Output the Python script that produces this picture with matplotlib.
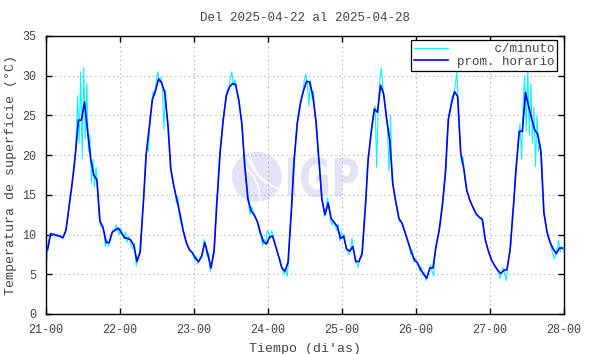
import numpy as np
import matplotlib
matplotlib.use("Agg")
import matplotlib.pyplot as plt
from matplotlib.patches import Ellipse, Arc, PathPatch
from matplotlib.textpath import TextPath
from matplotlib.font_manager import FontProperties
from matplotlib.transforms import Affine2D

# promedio horario (una lista por dia, 24 valores)
prom_21 = [8.1, 10.1, 10.0, 9.9, 9.8, 9.6, 10.6, 13.5, 16.5, 20.0, 24.4, 24.4,
           26.7, 23.0, 19.5, 17.5, 16.9, 11.7, 10.9, 9.0, 9.0, 10.3, 10.6, 10.8]
prom_22 = [10.2, 9.6, 9.5, 9.3, 8.6, 6.6, 7.75, 13.6, 20.1, 23.6, 27.0, 28.1,
           29.6, 29.1, 27.9, 24.0, 18.2, 16.0, 14.3, 12.5, 10.5, 9.0, 8.1, 7.7]
prom_23 = [7.0, 6.6, 7.3, 9.0, 7.5, 5.8, 7.9, 14.5, 20.5, 24.5, 27.5, 28.6,
           29.0, 28.9, 27.0, 24.0, 18.5, 14.5, 13.0, 12.5, 11.7, 10.3, 9.1, 8.8]
prom_24 = [9.7, 9.8, 8.5, 7.2, 5.8, 5.4, 6.5, 12.5, 19.5, 24.0, 26.5, 28.1,
           29.3, 29.2, 27.6, 24.5, 19.5, 14.4, 12.5, 14.0, 12.0, 11.5, 11.0, 9.5]
prom_25 = [9.8, 8.2, 7.9, 8.5, 6.6, 6.6, 7.6, 13.0, 19.5, 23.0, 25.8, 25.4,
           28.8, 27.7, 24.5, 21.8, 16.3, 14.0, 12.0, 11.4, 10.2, 9.0, 7.8, 6.8]
prom_26 = [6.4, 5.6, 5.0, 4.5, 5.8, 5.8, 8.5, 10.5, 13.5, 17.5, 24.5, 26.5,
           28.0, 27.4, 20.3, 18.3, 15.5, 14.3, 13.4, 12.6, 12.2, 11.9, 9.3, 7.9]
prom_27 = [6.8, 6.1, 5.5, 5.1, 5.5, 5.6, 8.0, 13.0, 18.5, 23.0, 23.0, 27.9,
           26.2, 24.6, 23.2, 22.6, 20.5, 12.7, 10.3, 9.0, 8.2, 7.6, 8.3, 8.3]

# datos por minuto (muestreados: dos valores por hora)
min_21 = [6.6, 9.0, 10.1, 10.0, 9.9, 10.1, 9.8, 10.0, 9.7, 9.9, 9.5, 9.8,
          10.2, 11.5, 13.0, 14.5, 15.8, 17.5, 18.5, 22.0, 27.5, 21.5, 30.5, 19.5,
          31.0, 22.0, 29.0, 20.5, 22.5, 16.5, 19.5, 16.0, 18.5, 15.5, 12.0, 11.0,
          11.0, 10.5, 8.5, 9.4, 8.5, 9.5, 10.0, 10.6, 10.4, 11.2, 10.5, 10.0]
min_22 = [10.8, 10.2, 9.5, 10.3, 9.0, 9.8, 9.5, 8.5, 8.2, 8.9, 6.0, 7.2,
          7.5, 8.0, 12.5, 14.5, 19.5, 21.0, 20.5, 24.5, 26.5, 28.0, 27.5, 29.5,
          30.5, 29.2, 29.8, 28.6, 23.3, 28.2, 24.5, 23.5, 18.5, 17.5, 16.5, 15.8,
          14.0, 14.8, 12.3, 11.5, 10.8, 10.0, 9.3, 8.7, 8.3, 7.9, 7.8, 7.4]
min_23 = [6.8, 7.3, 6.3, 6.9, 7.0, 7.7, 9.4, 8.7, 7.2, 7.7, 5.4, 6.2,
          7.5, 9.0, 14.0, 15.5, 20.0, 21.5, 24.0, 25.5, 27.2, 28.3, 28.2, 29.6,
          30.5, 28.8, 29.5, 28.5, 27.2, 26.5, 24.5, 23.5, 19.0, 17.8, 14.5, 13.8,
          12.5, 13.5, 12.8, 12.2, 11.8, 11.3, 10.2, 9.8, 8.6, 9.4, 9.0, 10.5]
min_24 = [10.2, 9.5, 10.5, 9.6, 8.8, 8.2, 7.4, 7.0, 6.0, 5.6, 5.0, 5.6,
          4.8, 7.0, 12.0, 13.5, 19.0, 20.5, 23.5, 25.0, 26.2, 27.3, 27.8, 29.3,
          30.2, 29.0, 26.2, 29.5, 27.2, 28.0, 24.8, 24.0, 20.0, 19.0, 14.8, 14.0,
          12.3, 13.0, 14.6, 13.5, 11.8, 11.2, 11.8, 11.2, 10.5, 11.3, 9.2, 10.4]
min_25 = [9.6, 10.0, 8.2, 8.0, 7.5, 8.1, 9.5, 8.3, 6.8, 6.4, 5.9, 6.9,
          7.2, 8.0, 12.5, 14.0, 19.0, 20.5, 22.0, 24.0, 25.5, 26.2, 18.5, 26.0,
          29.5, 31.0, 28.5, 27.0, 25.5, 23.5, 18.0, 25.0, 16.8, 15.8, 14.2, 13.6,
          12.3, 11.6, 11.6, 11.0, 10.4, 9.8, 9.2, 8.6, 7.5, 8.0, 6.6, 7.0]
min_26 = [6.7, 6.1, 5.4, 5.9, 4.9, 5.2, 4.2, 4.8, 5.5, 6.2, 5.3, 4.8,
          8.2, 9.0, 10.2, 11.0, 13.2, 14.2, 17.0, 18.5, 24.0, 25.5, 26.0, 27.5,
          27.5, 28.8, 30.5, 26.5, 21.5, 19.0, 19.8, 17.2, 15.8, 15.2, 14.5, 14.0,
          13.6, 13.2, 12.8, 12.4, 12.4, 12.0, 12.2, 11.6, 9.6, 9.0, 8.1, 7.7]
min_27 = [7.0, 6.5, 6.3, 5.9, 5.8, 5.2, 4.5, 5.3, 5.8, 5.2, 4.2, 6.0,
          7.5, 8.7, 12.5, 14.0, 18.0, 19.5, 22.5, 24.0, 19.5, 26.5, 30.0, 23.0,
          31.0, 22.5, 29.0, 21.5, 26.0, 18.6, 25.0, 20.5, 21.5, 19.5, 13.5, 12.0,
          10.8, 9.8, 9.5, 8.5, 7.8, 7.0, 7.2, 8.2, 9.3, 7.8, 8.5, 8.0]

dias = [21, 22, 23, 24, 25, 26, 27]
prom = [prom_21, prom_22, prom_23, prom_24, prom_25, prom_26, prom_27]
minuto = [min_21, min_22, min_23, min_24, min_25, min_26, min_27]
xticks = [21, 22, 23, 24, 25, 26, 27, 28]
xlabels = ["21-00", "22-00", "23-00", "24-00", "25-00", "26-00", "27-00", "28-00"]

t_prom, v_prom, t_min, v_min = [], [], [], []
for d, p, m in zip(dias, prom, minuto):
    for h, v in enumerate(p):
        t_prom.append(d + (h + 0.5) / 24)
        v_prom.append(v)
    for k, v in enumerate(m):
        t_min.append(d + (k // 2 + 0.25 + 0.5 * (k % 2)) / 24)
        v_min.append(v)

plt.rcParams['font.family'] = ['Liberation Mono', 'DejaVu Sans Mono']

fig = plt.figure(figsize=(5.9, 3.54), dpi=100)
ax = fig.add_axes([46 / 590, 1 - 314 / 354, 518 / 590, 278 / 354])

# marca de agua IGP
wm = '#e3e3f5'
circ = Ellipse((256.7 / 590, 1 - 176.7 / 354), 50 / 590, 50 / 354,
               transform=fig.transFigure, facecolor=wm, edgecolor='none', zorder=0)
ax.add_patch(circ)
for (cx, cy, r, a1, a2) in [(290, 150, 40, 180, 260), (300, 140, 55, 185, 245),
                            (215, 200, 45, -20, 60)]:
    ax.add_patch(Arc((cx / 590, 1 - cy / 354), 2 * r / 590, 2 * r / 354,
                     theta1=a1, theta2=a2, transform=fig.transFigure,
                     color='white', lw=1.2, zorder=0.5, clip_path=circ))
tp = TextPath((0, 0), "IGP", size=1, prop=FontProperties(family='DejaVu Sans', weight='bold'))
bb = tp.get_extents()
x0, x1, y0, y1 = 288 / 590, 358 / 590, 1 - 197 / 354, 1 - 157 / 354
tr = (Affine2D().translate(-bb.x0, -bb.y0)
      .scale((x1 - x0) / bb.width, (y1 - y0) / bb.height)
      .translate(x0, y0) + fig.transFigure)
ax.add_patch(PathPatch(tp, transform=tr, facecolor=wm, edgecolor='none', zorder=0))

ax.plot(t_min, v_min, color='#10f4f4', lw=0.8, label='     c/minuto', zorder=2)
ax.plot(t_prom, v_prom, color='#0000ff', lw=1.2, label='prom. horario', zorder=3)

ax.set_xlim(21, 28)
ax.set_ylim(0, 35)
ax.set_xticks(xticks)
ax.set_xticklabels(xlabels)
ax.set_yticks(range(0, 36, 5))
ax.tick_params(direction='in', length=4, width=1, top=True, right=True,
               labelsize=8.5, pad=7, colors='black', labelcolor='#444444')
ax.grid(True, color='#a8a8a8', linestyle=(0, (1, 3)), lw=0.8, zorder=1)
for s in ax.spines.values():
    s.set_linewidth(1.0)

ax.set_title("Del 2025-04-22 al 2025-04-28", fontsize=9, pad=11, color='#444444')
ax.set_xlabel("Tiempo (di'as)", fontsize=9.5, labelpad=5, color='#444444')
ax.set_ylabel("Temperatura de superficie (°C)", fontsize=9.5, labelpad=4, color='#444444')

leg = ax.legend(loc='upper right', bbox_to_anchor=(0.987, 0.986), fancybox=False,
                framealpha=1, edgecolor='black', fontsize=9, handlelength=2.7,
                borderpad=0.25, labelspacing=0.05, borderaxespad=0.0, handletextpad=0.7)
leg.get_frame().set_linewidth(0.9)
for t in leg.get_texts():
    t.set_color('#444444')

fig.savefig("out.png", dpi=100)
